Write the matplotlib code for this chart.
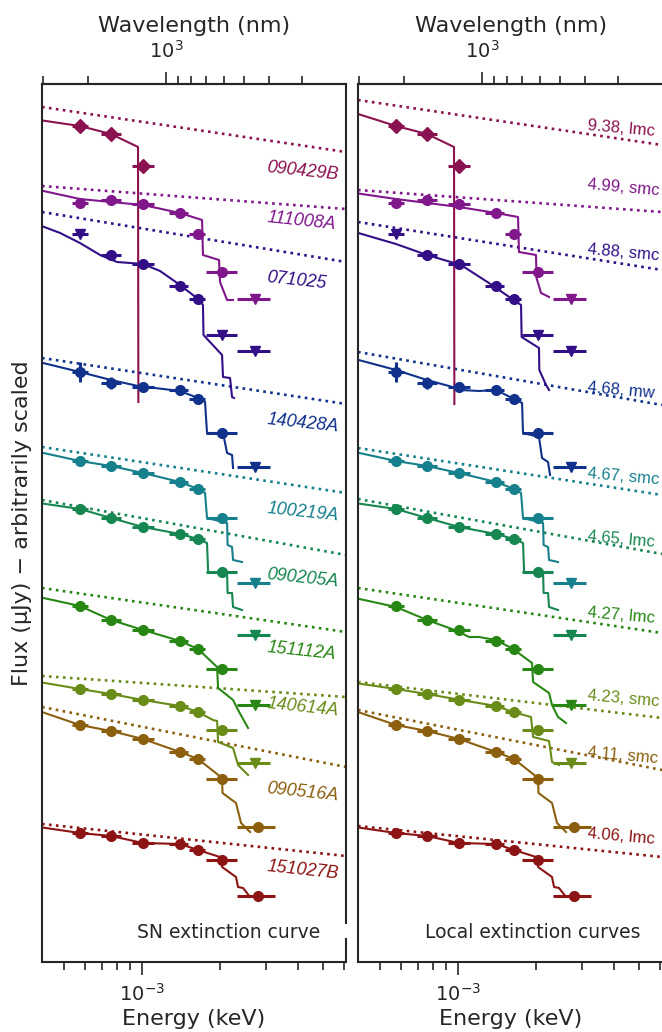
import numpy as np
import matplotlib.pyplot as plt

plt.rcParams['font.family'] = 'DejaVu Sans'
TXT = '#262626'
nan = np.nan

grbs = ['090429B', '111008A', '071025', '140428A', '100219A',
        '090205A', '151112A', '140614A', '090516A', '151027B']
colors = ['#8b1250', '#80188c', '#320f87', '#10328c', '#16808c',
          '#168750', '#288714', '#698c19', '#8c5f0f', '#8c1414']

# band centres / edges in eV  (K H J z i r g)
band_ev = [0.576, 0.759, 1.009, 1.40, 1.645, 2.037, 2.72]
band_lo = [0.537, 0.695, 0.915, 1.271, 1.519, 1.766, 2.327]
band_hi = [0.619, 0.830, 1.112, 1.505, 1.751, 2.327, 3.12]
# bluest point of 090516A and 151027B sits a bit further out
alt_g_ev, alt_g_lo, alt_g_hi = 2.805, 2.327, 3.264
alt_g_grbs = ['090516A', '151027B']

# photometry, log flux with arbitrary offsets (K H J z i r g)
f_090429B = [8.36, 8.28, 7.96, nan, nan, nan, nan]
f_111008A = [7.59, 7.62, 7.58, 7.49, 7.28, 6.90, 6.63]
f_071025 = [7.28, 7.07, 6.98, 6.76, 6.63, 6.27, 6.11]
f_140428A = [5.90, 5.79, 5.75, 5.72, 5.63, 5.29, 4.95]
f_100219A = [5.01, 4.96, 4.89, 4.80, 4.73, 4.44, 3.79]
f_090205A = [4.53, 4.44, 4.35, 4.28, 4.23, 3.90, 3.27]
f_151112A = [3.56, 3.42, 3.32, 3.21, 3.13, 2.93, 2.57]
f_140614A = [2.73, 2.68, 2.62, 2.56, 2.50, 2.32, 1.99]
f_090516A = [2.37, 2.31, 2.23, 2.10, 2.03, 1.83, 1.35]
f_151027B = [1.29, 1.26, 1.19, 1.18, 1.12, 1.02, 0.66]

yerr_140428A = [0.10, 0.06, 0, 0, 0, 0, 0]

# upper limits (band index)
ul_090429B = []
ul_111008A = [6]
ul_071025 = [0, 5, 6]
ul_140428A = [6]
ul_100219A = [6]
ul_090205A = [6]
ul_151112A = [6]
ul_140614A = [6]
ul_090516A = []
ul_151027B = []

# model curves, SN extinction (left) - energy in eV, log flux
sn_E_090429B = [0.40, 0.576, 0.759, 0.965, 0.968]
sn_y_090429B = [8.42, 8.36, 8.28, 8.15, 5.60]
sn_E_111008A = [0.40, 0.576, 0.759, 1.009, 1.402, 1.705, 1.719, 1.983, 2.0, 2.130, 2.246]
sn_y_111008A = [7.72, 7.63, 7.60, 7.57, 7.49, 7.42, 7.07, 7.02, 6.80, 6.62, 6.62]
sn_E_071025 = [0.40, 0.483, 0.576, 0.689, 0.801, 1.009, 1.174, 1.402, 1.645, 1.719,
               1.727, 2.037, 2.054, 2.187, 2.226, 2.266]
sn_y_071025 = [7.37, 7.29, 7.19, 7.07, 7.00, 6.98, 6.91, 6.77, 6.63, 6.57,
               6.27, 6.07, 5.85, 5.84, 5.65, 5.64]
sn_E_140428A = [0.40, 0.576, 0.759, 0.965, 1.402, 1.645, 1.751, 1.782, 2.054, 2.130, 2.226, 2.246]
sn_y_140428A = [6.00, 5.90, 5.82, 5.76, 5.71, 5.64, 5.60, 5.29, 5.29, 5.09, 5.07, 4.94]
sn_E_151112A = [0.40, 0.576, 0.759, 1.009, 1.402, 1.645, 1.949, 1.966, 2.246, 2.348, 2.567]
sn_y_151112A = [3.65, 3.56, 3.42, 3.32, 3.21, 3.13, 2.95, 2.74, 2.62, 2.52, 2.34]
sn_E_140614A = [0.40, 0.576, 0.759, 1.009, 1.402, 1.645, 1.879, 1.949, 1.966, 2.246, 2.348, 2.567]
sn_y_140614A = [2.80, 2.73, 2.68, 2.62, 2.56, 2.50, 2.42, 2.41, 2.20, 2.14, 1.97, 1.87]

# model curves, local extinction laws (right)
loc_E_090429B = [0.40, 0.576, 0.759, 0.965, 0.968]
loc_y_090429B = [8.49, 8.36, 8.28, 8.15, 5.58]
loc_E_111008A = [0.40, 0.576, 1.009, 1.402, 1.705, 1.719, 2.0, 2.01, 2.092, 2.246]
loc_y_111008A = [7.69, 7.63, 7.55, 7.49, 7.45, 7.10, 7.07, 6.84, 6.69, 6.65]
loc_E_071025 = [0.40, 0.576, 0.759, 1.027, 1.353, 1.616, 1.751, 1.76, 2.054, 2.06, 2.187, 2.246]
loc_y_071025 = [7.30, 7.18, 7.07, 6.97, 6.77, 6.63, 6.57, 6.25, 6.14, 5.92, 5.77, 5.72]
loc_E_140428A = [0.40, 0.576, 0.759, 0.923, 1.027, 1.205, 1.402, 1.616, 1.767, 1.782,
                 2.054, 2.110, 2.226, 2.266]
loc_y_140428A = [6.03, 5.92, 5.82, 5.76, 5.72, 5.71, 5.72, 5.64, 5.59, 5.29,
                 5.25, 5.04, 5.00, 4.87]
loc_E_151112A = [0.40, 0.576, 0.759, 0.948, 1.027, 1.103, 1.205, 1.402, 1.631, 1.931,
                 1.949, 2.246, 2.306, 2.433, 2.612]
loc_y_151112A = [3.64, 3.55, 3.42, 3.33, 3.29, 3.25, 3.25, 3.22, 3.13, 2.99,
                 2.80, 2.69, 2.57, 2.45, 2.39]
loc_E_140614A = [0.40, 0.576, 0.759, 1.027, 1.402, 1.631, 1.913, 1.949, 2.246, 2.306, 2.455]
loc_y_140614A = [2.79, 2.73, 2.68, 2.62, 2.56, 2.50, 2.45, 2.25, 2.21, 2.00, 1.97]

# model curves that look the same in both panels
mod_E_100219A = [0.40, 0.576, 0.759, 1.009, 1.402, 1.645, 1.751, 1.782, 2.130, 2.14, 2.226, 2.246, 2.433]
mod_y_100219A = [5.10, 5.01, 4.96, 4.89, 4.80, 4.73, 4.69, 4.44, 4.39, 4.17, 4.15, 4.02, 4.00]
mod_E_090205A = [0.40, 0.576, 0.759, 1.009, 1.402, 1.645, 1.782, 1.80, 2.130, 2.14, 2.226, 2.246, 2.433]
mod_y_090205A = [4.59, 4.53, 4.44, 4.35, 4.28, 4.23, 4.19, 3.90, 3.89, 3.69, 3.69, 3.55, 3.52]
mod_E_090516A = [0.40, 0.576, 0.759, 1.009, 1.402, 1.645, 2.037, 2.045, 2.306, 2.411, 2.612]
mod_y_090516A = [2.51, 2.37, 2.31, 2.23, 2.10, 2.03, 1.84, 1.69, 1.59, 1.39, 1.30]
mod_E_151027B = [0.40, 0.576, 0.759, 1.009, 1.402, 1.645, 2.0, 2.037, 2.306, 2.348, 2.455, 2.612]
mod_y_151027B = [1.35, 1.29, 1.26, 1.19, 1.18, 1.12, 1.05, 0.95, 0.85, 0.75, 0.74, 0.65]

# unextinguished power laws (dotted), value at the two ends of pl_E
pl_E = [0.411, 6.13]
sn_pl = [[8.55, 8.10], [7.76, 7.53], [7.50, 7.00], [6.04, 5.58], [5.15, 4.69],
         [4.62, 4.07], [3.74, 3.30], [2.86, 2.65], [2.55, 1.95], [1.38, 1.06]]
loc_pl = [[8.62, 8.17], [7.72, 7.50], [7.40, 6.92], [6.10, 5.57], [5.14, 4.67],
          [4.63, 4.08], [3.74, 3.29], [2.80, 2.44], [2.52, 1.92], [1.36, 1.05]]

# labels
name_x_ev = 3.04
name_y = [7.94, 7.44, 6.84, 5.42, 4.53, 3.87, 3.14, 2.58, 1.73, 0.95]
redshift = [9.38, 4.99, 4.88, 4.68, 4.67, 4.65, 4.27, 4.23, 4.11, 4.06]
ext_law = ['lmc', 'smc', 'smc', 'mw', 'smc', 'lmc', 'lmc', 'smc', 'smc', 'lmc']
loc_x_ev = 3.15
loc_y = [8.36, 7.77, 7.12, 5.74, 4.88, 4.25, 3.49, 2.66, 2.09, 1.28]

flux = [f_090429B, f_111008A, f_071025, f_140428A, f_100219A,
        f_090205A, f_151112A, f_140614A, f_090516A, f_151027B]
uls = [ul_090429B, ul_111008A, ul_071025, ul_140428A, ul_100219A,
       ul_090205A, ul_151112A, ul_140614A, ul_090516A, ul_151027B]
sn_models = [(sn_E_090429B, sn_y_090429B), (sn_E_111008A, sn_y_111008A),
             (sn_E_071025, sn_y_071025), (sn_E_140428A, sn_y_140428A),
             (mod_E_100219A, mod_y_100219A), (mod_E_090205A, mod_y_090205A),
             (sn_E_151112A, sn_y_151112A), (sn_E_140614A, sn_y_140614A),
             (mod_E_090516A, mod_y_090516A), (mod_E_151027B, mod_y_151027B)]
loc_models = [(loc_E_090429B, loc_y_090429B), (loc_E_111008A, loc_y_111008A),
              (loc_E_071025, loc_y_071025), (loc_E_140428A, loc_y_140428A),
              (mod_E_100219A, mod_y_100219A), (mod_E_090205A, mod_y_090205A),
              (loc_E_151112A, loc_y_151112A), (loc_E_140614A, loc_y_140614A),
              (mod_E_090516A, mod_y_090516A), (mod_E_151027B, mod_y_151027B)]


def e2l(E):
    # keV <-> nm, same function both ways
    E = np.asarray(E, dtype=float)
    with np.errstate(divide='ignore'):
        return 1.23984 / E


def draw_panel(ax, models, powerlaws):
    for i, name in enumerate(grbs):
        c = colors[i]
        x = np.array(band_ev) * 1e-3
        lo = np.array(band_lo) * 1e-3
        hi = np.array(band_hi) * 1e-3
        if name in alt_g_grbs:
            x[6], lo[6], hi[6] = alt_g_ev * 1e-3, alt_g_lo * 1e-3, alt_g_hi * 1e-3
        y = np.array(flux[i], dtype=float)
        ye = np.array(yerr_140428A) if name == '140428A' else np.zeros(7)
        ul = np.zeros(7, bool)
        ul[uls[i]] = True
        ok = ~np.isnan(y)

        mE, my = models[i]
        ax.plot(np.array(mE) * 1e-3, my, color=c, lw=1.5, zorder=2)
        ax.plot(np.array(pl_E) * 1e-3, powerlaws[i], ls=':', color=c, lw=1.9, zorder=1)

        det = ok & ~ul
        mk, ms = ('D', 7) if name == '090429B' else ('o', 7)
        ax.errorbar(x[det], y[det], xerr=[x[det] - lo[det], hi[det] - x[det]],
                    yerr=ye[det], fmt=mk, ms=ms, color=c, elinewidth=2.2,
                    capsize=0, zorder=3)
        lim = ok & ul
        if lim.any():
            ax.errorbar(x[lim], y[lim], xerr=[x[lim] - lo[lim], hi[lim] - x[lim]],
                        fmt='v', ms=7, color=c, elinewidth=2.2, capsize=0, zorder=3)


def style_axis(ax, xlim):
    ax.set_xscale('log')
    ax.set_xlim(*xlim)
    ax.set_ylim(0, 8.78)
    ax.set_yticks([])
    for s in ax.spines.values():
        s.set_color(TXT)
        s.set_linewidth(1.5)
    ax.tick_params(axis='x', which='major', direction='out', length=9, width=1.2,
                   labelsize=14, colors=TXT, pad=6)
    ax.tick_params(axis='x', which='minor', direction='out', length=5.5, width=1.2,
                   colors=TXT)
    ax.set_xlabel('Energy (keV)', fontsize=16, color=TXT, labelpad=3)
    sec = ax.secondary_xaxis('top', functions=(e2l, e2l))
    sec.spines['top'].set_color(TXT)
    sec.spines['top'].set_linewidth(1.5)
    sec.tick_params(which='major', direction='out', length=9, width=1.2,
                    labelsize=14, colors=TXT, pad=7)
    sec.tick_params(which='minor', direction='out', length=5.5, width=1.2, colors=TXT)
    sec.set_xlabel('Wavelength (nm)', fontsize=16, color=TXT, labelpad=6)


fig = plt.figure(figsize=(6.62, 10.32), dpi=100)
axL = fig.add_axes([42 / 662, 70 / 1032, 304 / 662, 878 / 1032])
axR = fig.add_axes([358 / 662, 70 / 1032, 306 / 662, 878 / 1032])

style_axis(axL, (4.11e-4, 6.13e-3))
style_axis(axR, (4.11e-4, 6.24e-3))

draw_panel(axL, sn_models, sn_pl)
draw_panel(axR, loc_models, loc_pl)

for i, name in enumerate(grbs):
    axL.text(name_x_ev * 1e-3, name_y[i], name, color=colors[i], fontsize=13,
             family='Liberation Sans', style='italic', rotation=-6,
             rotation_mode='anchor', ha='left', va='center', zorder=4)
    axR.text(loc_x_ev * 1e-3, loc_y[i], f'{redshift[i]:.2f}, {ext_law[i]}',
             color=colors[i], fontsize=12, family='Liberation Sans', rotation=-5,
             rotation_mode='anchor', ha='left', va='center', zorder=4)

axL.set_ylabel('Flux (\u03bcJy) \u2212 arbitrarily scaled', fontsize=16, color=TXT,
               labelpad=7)

axL.text(0.914, 0.034, 'SN extinction curve', transform=axL.transAxes,
         ha='right', va='center', fontsize=13.5, color=TXT)
axR.text(0.922, 0.034, 'Local extinction curves', transform=axR.transAxes,
         ha='right', va='center', fontsize=13.5, color=TXT)

# the left panel's right edge has a small break next to its caption
axL.spines['right'].set_visible(False)
axL.plot([1, 1], [0, 0.026], transform=axL.transAxes, color=TXT, lw=1.5,
         clip_on=False, solid_capstyle='projecting', zorder=5)
axL.plot([1, 1], [0.044, 1], transform=axL.transAxes, color=TXT, lw=1.5,
         clip_on=False, solid_capstyle='projecting', zorder=5)

fig.savefig('out.png', dpi=100)
